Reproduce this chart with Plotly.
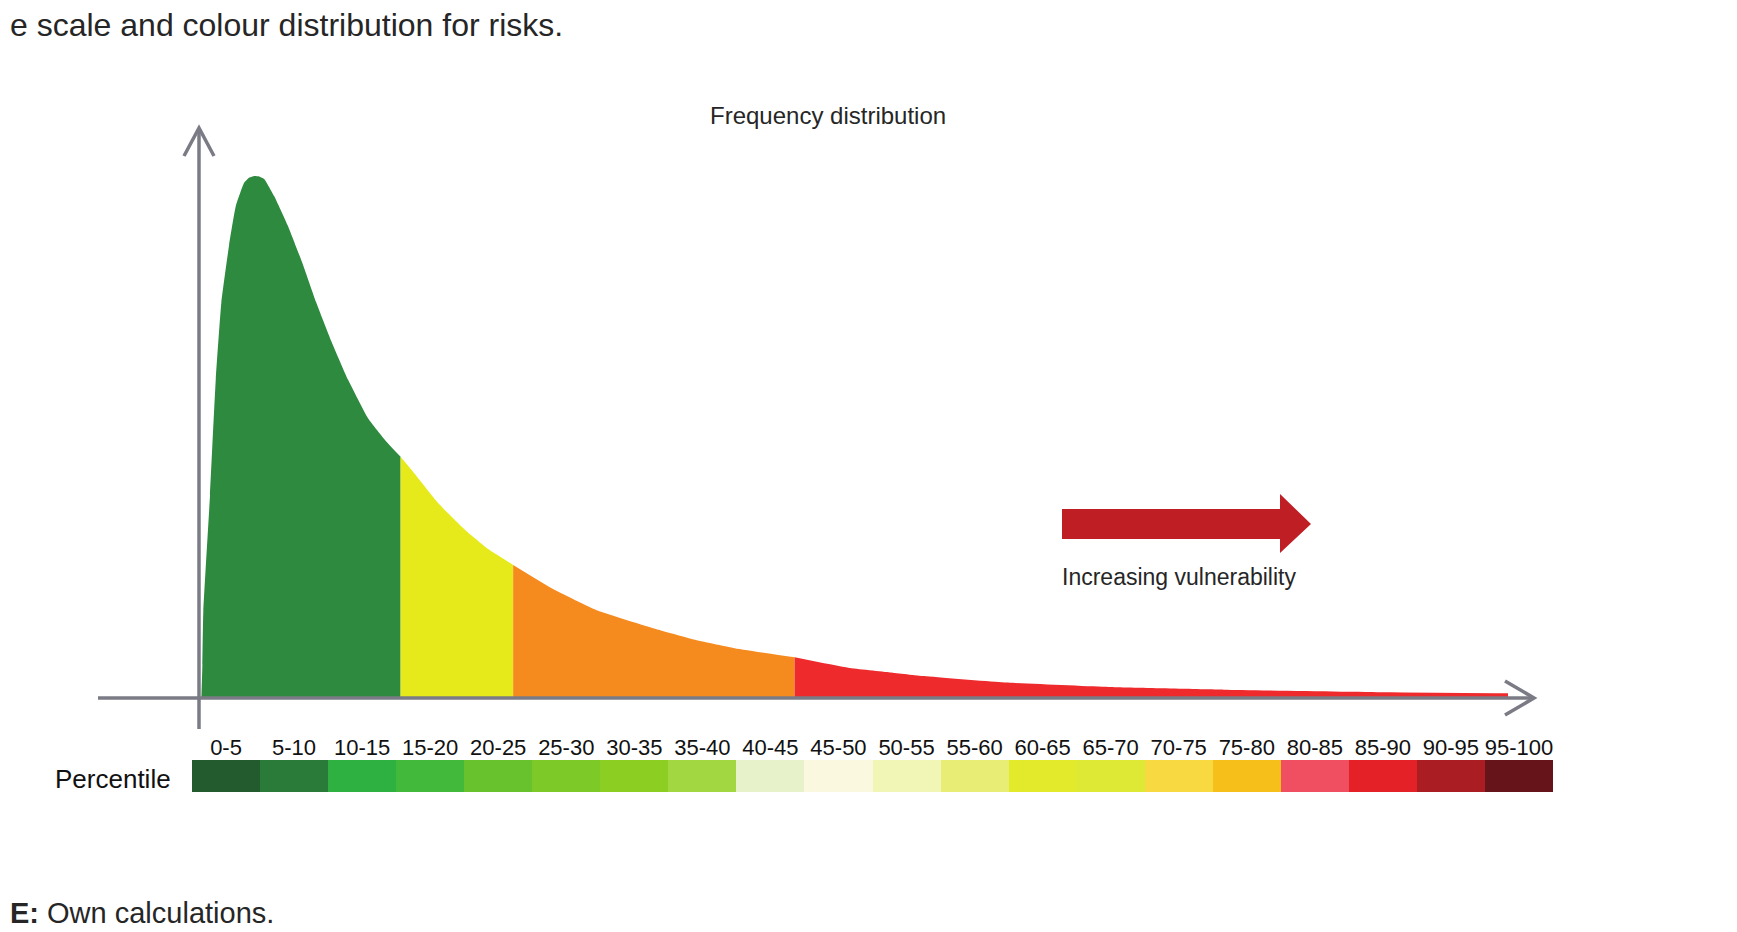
"""
Frequency distribution of the vulnerability score with the percentile colour key.
"""

import plotly.graph_objects as go

# Frequency distribution (x: score 0-100, y: relative frequency, peak = 100)
dist_x = [0.18, 0.26, 0.33, 0.84, 1.28, 1.71, 2.30, 2.81, 3.45, 3.85, 4.22, 4.60, 4.99, 5.75,
          6.78, 7.93, 8.95, 10.10, 11.38, 12.91, 14.32, 15.4,
          16.49, 18.28, 20.33, 22.12, 24.0,
          26.97, 30.5, 34.9, 37.8, 40.8, 45.5,
          49.6, 52.8, 55.4, 61.3, 69.5, 78.3, 91.0, 100.0]
dist_y = [0.0, 6.3, 16.6, 38.8, 61.0, 75.8, 86.8, 94.2, 98.7, 99.7, 100.0, 99.9, 99.4, 96.1,
          90.5, 83.1, 75.8, 68.4, 61.0, 53.6, 49.1, 46.2,
          42.9, 37.3, 32.2, 28.5, 25.5,
          21.0, 16.7, 13.2, 11.2, 9.6, 7.8,
          5.8, 4.9, 4.2, 3.0, 2.1, 1.6, 1.1, 0.9]

# Colour bands under the curve
band_edges = [0.18, 15.4, 24.0, 45.5, 100.0]
band_colors = ["#2D8A3E", "#E6E91A", "#F58A1F", "#EE2A2C"]

# Percentile key
percentiles = ["0-5", "5-10", "10-15", "15-20", "20-25", "25-30", "30-35", "35-40",
               "40-45", "45-50", "50-55", "55-60", "60-65", "65-70", "70-75", "75-80",
               "80-85", "85-90", "90-95", "95-100"]
percentile_colors = ["#235B2E", "#2A7A39", "#2EB140", "#43B93C", "#67C22E", "#7DC928",
                     "#8DCE22", "#A3D742", "#E7F2CB", "#FAF9DF", "#F1F6B6", "#E8EE75",
                     "#E2EA2B", "#DEE935", "#F8D942", "#F6BF1A", "#EF4F60", "#E32127",
                     "#AA1D23", "#66141A"]

# page is 1737x932, the browser puts the figure 8px in from the top-left
PAGE_W, PAGE_H = 1737, 932
OFF = 8
W, H = PAGE_W - OFF, PAGE_H - OFF
FONT = "Liberation Sans"
TEXT = "#262626"
AXIS = "#7B7B86"


def px(x):
    return (x - OFF) / W


def py(y):
    return 1 - (y - OFF) / H


fig = go.Figure()

# Filled area per band
for lo, hi, col in zip(band_edges[:-1], band_edges[1:], band_colors):
    xs = [x for x in dist_x if lo <= x <= hi]
    ys = [y for x, y in zip(dist_x, dist_y) if lo <= x <= hi]
    fig.add_trace(go.Scatter(
        x=xs, y=ys, mode="lines", fill="tozeroy", fillcolor=col,
        line=dict(width=0, color=col, shape="spline", smoothing=0.4),
        hoverinfo="skip", showlegend=False, xaxis="x", yaxis="y"
    ))

# Percentile colour key
fig.add_trace(go.Bar(
    x=percentiles, y=[1] * len(percentiles), marker_color=percentile_colors,
    marker_line_width=0, width=1, xaxis="x2", yaxis="y2",
    hoverinfo="x", showlegend=False
))

# Axis scale (page pixels): 0 at the y-axis line, 100 at the end of the tail / the peak
x0_px, x100_px = 199, 1508
y0_px, y100_px = 698, 176
sx = (x100_px - x0_px) / 100
sy = (y0_px - y100_px) / 100

shapes = []
# drawn axes with open arrow heads
shapes.append(dict(type="line", xref="paper", yref="paper",
                   x0=px(199), x1=px(199), y0=py(729), y1=py(129),
                   line=dict(color=AXIS, width=3.5)))
shapes.append(dict(type="line", xref="paper", yref="paper",
                   x0=px(98), x1=px(1532), y0=py(698), y1=py(698),
                   line=dict(color=AXIS, width=3.5)))
shapes.append(dict(type="path", xref="paper", yref="paper",
                   path=f"M {px(184)} {py(156)} L {px(199)} {py(128)} L {px(214)} {py(156)}",
                   line=dict(color=AXIS, width=3.5)))
shapes.append(dict(type="path", xref="paper", yref="paper",
                   path=f"M {px(1505)} {py(681)} L {px(1534)} {py(698)} L {px(1505)} {py(715)}",
                   line=dict(color=AXIS, width=3.5)))
# red "increasing vulnerability" arrow
arrow = [(1062, 509), (1280, 509), (1280, 494), (1311, 524), (1280, 553), (1280, 539), (1062, 539)]
arrow_path = "M " + " L ".join(f"{px(a)} {py(b)}" for a, b in arrow) + " Z"
shapes.append(dict(type="path", xref="paper", yref="paper", path=arrow_path,
                   fillcolor="#BE1E24", line=dict(width=0)))

annotations = [
    dict(text="e scale and colour distribution for risks.", x=px(OFF), y=py(25),
         xanchor="left", yanchor="middle", font=dict(size=32, color=TEXT)),
    dict(text="Frequency distribution", x=px(828), y=py(115),
         xanchor="center", yanchor="middle", font=dict(size=24, color=TEXT)),
    dict(text="Increasing vulnerability", x=px(1060), y=py(577),
         xanchor="left", yanchor="middle", font=dict(size=23, color=TEXT)),
    dict(text="Percentile", x=px(173), y=py(779),
         xanchor="right", yanchor="middle", font=dict(size=26, color="#111111")),
    dict(text="<b>E:</b> Own calculations.", x=px(OFF), y=py(913),
         xanchor="left", yanchor="middle", font=dict(size=29, color=TEXT)),
]
for a in annotations:
    a.update(xref="paper", yref="paper", showarrow=False)

fig.update_layout(
    width=W, height=H,
    margin=dict(l=0, r=0, t=0, b=0),
    paper_bgcolor="white", plot_bgcolor="white",
    font=dict(family=FONT, color=TEXT),
    bargap=0,
    xaxis=dict(domain=[0, 1], range=[-(x0_px - OFF) / sx, (PAGE_W - x0_px) / sx],
               visible=False, fixedrange=True),
    yaxis=dict(domain=[0, 1], range=[-(PAGE_H - y0_px) / sy, (y0_px - OFF) / sy],
               visible=False, fixedrange=True),
    xaxis2=dict(domain=[px(192), px(1553)], anchor="y2", side="top", type="category",
                showgrid=False, showline=False, zeroline=False, ticks="",
                tickfont=dict(size=22, color="#111111"), fixedrange=True),
    yaxis2=dict(domain=[py(792), py(760)], anchor="x2", range=[0, 1], visible=False, fixedrange=True),
    shapes=shapes,
    annotations=annotations,
)

fig.write_html("out.html")
